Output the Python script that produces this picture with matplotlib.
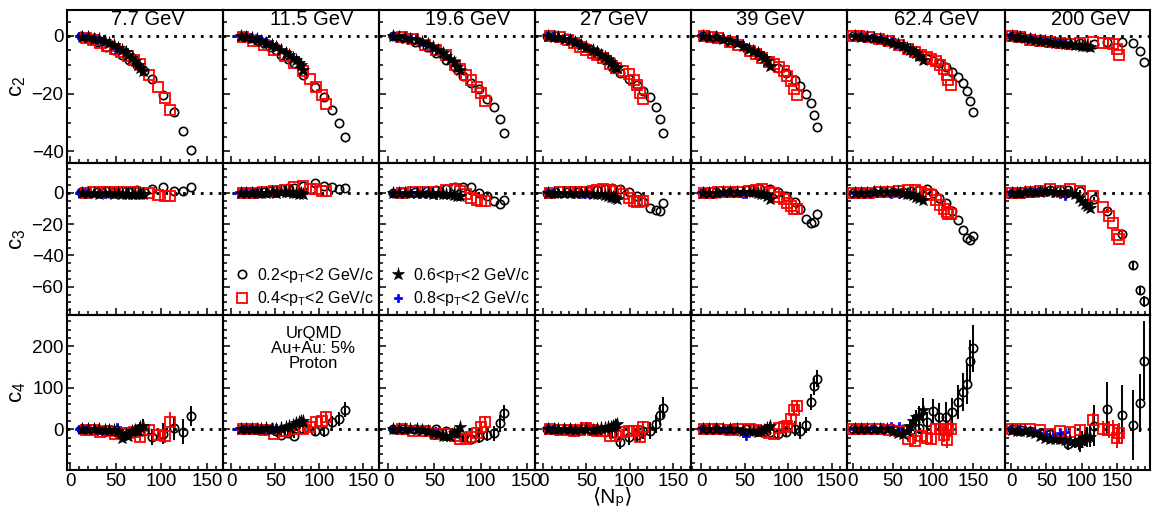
import matplotlib
matplotlib.use('Agg')
import matplotlib.pyplot as plt
from matplotlib.ticker import MultipleLocator

plt.rcParams['font.family'] = ['Liberation Sans', 'DejaVu Sans']
plt.rcParams['mathtext.fontset'] = 'custom'
plt.rcParams['mathtext.rm'] = 'Liberation Sans'
plt.rcParams['mathtext.it'] = 'Liberation Sans:italic'
plt.rcParams['mathtext.bf'] = 'Liberation Sans:bold'

energies = ['7.7 GeV', '11.5 GeV', '19.6 GeV', '27 GeV', '39 GeV', '62.4 GeV', '200 GeV']
cumulants = ['c$_{\\rm 2}$', 'c$_{\\rm 3}$', 'c$_{\\rm 4}$']
pt_labels = ['0.2<p$_{\\rm T}$<2 GeV/c', '0.4<p$_{\\rm T}$<2 GeV/c',
             '0.6<p$_{\\rm T}$<2 GeV/c', '0.8<p$_{\\rm T}$<2 GeV/c']

# ---- 7.7 GeV ----
x_o_77 = [12, 19, 29, 39, 48, 57, 65, 73, 81, 90, 102, 114, 124, 133]
c2_o_77 = [-0.1, -0.8, -2.0, -3.7, -4.8, -6.6, -8.4, -10.0, -12.3, -14.9, -20.6, -26.4, -32.8, -39.5]
c3_o_77 = [0.2, 0.3, 0.5, 1.0, 0.5, 1.0, 0.8, 1.6, 0.5, 2.4, 3.5, 1.0, 1.3, 3.6]
c4_o_77 = [0, 0, -1, -1.6, -3, -14, -8, 0, -5, -19, -11, 2, -6, 32]
e4_o_77 = [2, 2, 3, 3, 5, 8, 8, 10, 12, 20, 25, 28, 30, 25]

x_sq_77 = [17, 25, 33, 41, 49, 56, 63, 70, 77, 87, 96, 104, 110]
c2_sq_77 = [-0.8, -1.5, -2.3, -3.4, -4.6, -5.7, -6.8, -8.2, -9.7, -13.6, -17.6, -21.6, -25.5]
c3_sq_77 = [0, 0.3, 0.6, 0.4, 0.6, 0.3, 0.6, 0.2, 0, 0, -1.5, -2.1, -1.9]
c4_sq_77 = [-1, -2, -6.5, -4, -12, -8, -10, -6, -18, -1.6, -13, -16, 18.6]
e4_sq_77 = [2, 3, 4, 5, 6, 7, 8, 9, 10, 12, 15, 18, 22]

x_st_77 = [13, 20, 26, 32, 38, 43, 48, 53, 57, 61, 64, 68, 71, 74, 77, 80]
c2_st_77 = [-0.2, -0.5, -0.9, -1.2, -1.6, -2.3, -3.1, -4.0, -4.8, -5.7, -6.6, -7.6, -8.6, -10.0, -11.1, -12.1]
c3_st_77 = [0, -0.3, 0, -0.5, 0, -0.3, -0.5, -0.3, -0.8, -0.5, -0.8, -0.5, -1, -0.8, -1, -0.6]
c4_st_77 = [0, 0, 0, 0, -1.6, -1, -1.6, -5, -21, -12, -16, -5, -1.6, -5, 5, 9]
e4_st_77 = [2, 2, 2, 3, 3, 4, 4, 5, 7, 8, 9, 10, 10, 12, 13, 15]

x_bl_77 = [10, 16, 22, 26, 33, 38, 45, 51]
c2_bl_77 = [-0.1, -0.3, -0.4, -0.5, -1.3, -2.0, -3.2, -4.8]
c3_bl_77 = [0, -0.2, 0, -0.2, -0.5, -1, -0.5, -1]
c4_bl_77 = [0, 1, 2, 3, -1, -5, 0, 5]
e4_bl_77 = [2, 2, 3, 3, 4, 4, 5, 6]

# ---- 11.5 GeV ----
x_o_115 = [14, 21, 29, 37, 44, 51, 57, 64, 71, 82, 95, 105, 114, 122, 129]
c2_o_115 = [-0.2, -0.7, -1.4, -2.5, -3.7, -5.0, -6.6, -7.9, -9.4, -13.4, -17.5, -21.1, -25.5, -30.1, -35.1]
c3_o_115 = [0.2, 0.4, 0.5, 0.8, 1.0, 1.5, 2.6, 2.8, 3.2, 4.3, 6.0, 4.3, 3.8, 2.1, 3.2]
c4_o_115 = [0, 0, 0, -2, 0, -5, -13, -10, -15, 0, -5, -5, 17, 25, 47]
e4_o_115 = [2, 2, 3, 3, 4, 5, 6, 6, 7, 9, 12, 14, 15, 16, 18]

x_sq_115 = [13, 25, 37, 48, 61, 71, 81, 89, 96, 103, 108]
c2_sq_115 = [-0.5, -1.6, -3.1, -4.8, -6.9, -9.4, -12.0, -14.8, -17.5, -20.6, -23.6]
c3_sq_115 = [0, 0, 0.3, 1.0, 1.5, 3.8, 4.3, 2.6, 2.1, 1.0, 1.0]
c4_sq_115 = [0, 0.8, -1.6, -11.3, -4.8, 0, 0.8, 4.8, 18.6, 19.4, 29]
e4_sq_115 = [2, 3, 4, 5, 6, 7, 8, 9, 10, 11, 12]

x_st_115 = [11, 17, 23, 29, 34, 40, 46, 51, 57, 62, 66, 70, 74, 77, 79, 81]
c2_st_115 = [0, -0.3, -0.6, -1.0, -1.6, -2.3, -3.1, -3.9, -4.8, -5.8, -6.6, -7.5, -8.3, -9.2, -10.0, -11.7]
c3_st_115 = [0, 0, -0.3, 0, -0.3, 0, 0.3, 0, 0.5, 0.3, 0.5, 0, -0.3, -0.6, 0, -0.5]
c4_st_115 = [0, 0, 0, 1, 0, 2, 0, 1, 2, 4.8, 8.9, 10, 14.5, 18, 21, 20]
e4_st_115 = [2, 2, 2, 3, 3, 3, 4, 4, 5, 5, 6, 6, 7, 7, 8, 8]

x_bl_115 = [8, 14, 21, 28, 34, 40, 46, 51]
c2_bl_115 = [0, -0.1, -0.2, -0.6, -1.1, -1.9, -2.8, -3.6]
c3_bl_115 = [0, 0, -0.2, 0, -0.3, -0.2, 0, -0.3]
c4_bl_115 = [0, 0, 0.8, 0, 1, 2, 4.8, 3]
e4_bl_115 = [2, 2, 2, 3, 3, 3, 4, 4]

# ---- 19.6 GeV ----
x_o_196 = [5, 16, 29, 42, 52, 63, 72, 81, 90, 98, 107, 115, 121, 125]
c2_o_196 = [0, -0.6, -2.0, -3.7, -6.0, -8.3, -10.6, -13.8, -16.3, -18.4, -21.7, -24.7, -28.6, -33.6]
c3_o_196 = [0, 0.3, 0.5, 1.0, 1.5, 2.5, 3.8, 3.8, 3.8, 0, -2.1, -5.3, -7.0, -4.7]
c4_o_196 = [0, 0, 0, -2, 0.8, -5, -10, -18, -23.4, -18, -12.9, -9.7, 14.5, 39.5]
e4_o_196 = [2, 2, 3, 4, 5, 6, 8, 10, 12, 14, 16, 18, 20, 20]

x_sq_196 = [15, 27, 40, 52, 63, 72, 78, 84, 90, 96, 101, 105]
c2_sq_196 = [-0.2, -1.1, -3.1, -4.8, -6.6, -10.0, -11.5, -13.6, -15.2, -17.5, -19.8, -22.4]
c3_sq_196 = [0, 0.3, 0.5, 0.8, 1.5, 2.1, 1.0, -1.1, -3.2, -4.7, -5.3, -5.3]
c4_sq_196 = [0, -3.2, -3.2, -11, -11.3, -15.3, -23.4, -23.4, -17.8, -9.7, 4.8, 18.6]
e4_sq_196 = [2, 3, 4, 5, 6, 7, 8, 9, 10, 11, 12, 14]

x_st_196 = [5, 12, 18, 24, 31, 37, 43, 49, 54, 59, 63, 67, 71, 75, 78]
c2_st_196 = [0, -0.3, -0.6, -1.0, -1.4, -2.0, -2.8, -3.8, -4.8, -5.8, -6.9, -7.9, -8.9, -10.6, -11.7]
c3_st_196 = [0, 0, 0, -0.3, 0, 0, -0.3, -0.5, -0.3, -0.5, -1, -1, -1.5, -2, -2]
c4_st_196 = [0.8, 0.8, 0, 0, 0, -2, -4.8, -8, -11.3, -15, -15.3, -15.3, -10, -7.3, 4.8]
e4_st_196 = [2, 2, 2, 3, 3, 3, 4, 4, 5, 5, 6, 6, 7, 7, 8]

x_bl_196 = [5, 11, 18, 25, 33, 41, 47, 52]
c2_bl_196 = [0, -0.1, -0.2, -0.8, -1.6, -3.1, -3.9, -4.8]
c3_bl_196 = [0, 0, -0.2, -0.3, -0.5, -0.5, -1, -1.5]
c4_bl_196 = [0.8, 0.8, 0.8, 0, -3.2, -7, -13, -10]
e4_bl_196 = [2, 2, 2, 3, 3, 4, 4, 5]

# ---- 27 GeV ----
x_o_27 = [4, 14, 27, 40, 52, 62, 71, 80, 89, 99, 108, 116, 123, 130, 135, 139]
c2_o_27 = [0, 0, -0.8, -2.3, -4.3, -6.2, -8.3, -10.6, -12.7, -14.8, -17.0, -18.9, -21.3, -24.6, -28.7, -33.6]
c3_o_27 = [0, 0.2, 0.4, 0.6, 1.0, 1.5, 2.5, 3.2, 2.6, 0.4, -2.1, -6, -10, -11, -11.7, -6.4]
c4_o_27 = [0, 0, 0, -2, 0, -3, -7.3, -10, -31.5, -19.4, -13, -4.8, -3.2, 12.9, 34.7, 51.7]
e4_o_27 = [2, 2, 3, 3, 4, 5, 6, 8, 15, 18, 18, 18, 20, 22, 24, 25]

x_sq_27 = [8, 19, 29, 35, 42, 50, 58, 62, 69, 77, 84, 92, 99, 105, 108, 112, 115]
c2_sq_27 = [0, -0.3, -1.4, -2.4, -3.7, -4.8, -6.0, -6.6, -7.7, -9.8, -11.0, -12.0, -13.3, -15.2, -17.1, -19.8, -21.8]
c3_sq_27 = [0, 0.2, 0.4, 0.5, 0.6, 0.8, 1.0, 1.5, 2.1, 1.5, 1.0, -1.1, -3.2, -5.3, -6.0, -5.3, -5.3]
c4_sq_27 = [0, -0.8, -2, -3.2, -1, 3.2, -1, -3.2, -5, -17, -15.3, -7.3, -4.8, -5, -3.2, -17.8, 4.8]
e4_sq_27 = [2, 2, 3, 3, 4, 4, 5, 5, 6, 7, 8, 9, 10, 11, 12, 13, 14]

x_st_27 = [6, 12, 17, 24, 31, 37, 44, 50, 57, 62, 67, 72, 75, 78, 81, 83, 85]
c2_st_27 = [0, -0.2, -0.5, -0.9, -1.4, -2.2, -3.1, -3.9, -4.8, -5.7, -6.6, -7.4, -8.0, -8.9, -10.0, -10.6, -11.2]
c3_st_27 = [0, 0, 0, 0, -0.3, 0, -0.3, 0, -0.5, -0.5, -1, -1.5, -2, -2.5, -3, -3.5, -3.8]
c4_st_27 = [0, 0, 0, 0, 0, -1, 0, 0, -0.8, 0, 2.4, 3, 4.8, 6, 8.9, 10, 12.9]
e4_st_27 = [2, 2, 2, 3, 3, 3, 4, 4, 5, 5, 6, 7, 7, 8, 9, 10, 11]

x_bl_27 = [4, 10, 17, 24, 30, 36, 42, 48, 53]
c2_bl_27 = [0, 0, -0.2, -0.6, -1.1, -1.8, -3.1, -3.9, -4.6]
c3_bl_27 = [0, 0, -0.2, 0, -0.3, -0.5, -0.5, -0.8, -1]
c4_bl_27 = [0, 0, -0.8, -2, -3, -7.3, -3, 2, 8.9]
e4_bl_27 = [2, 2, 2, 3, 3, 3, 4, 4, 5]

# ---- 39 GeV ----
x_o_39 = [2, 17, 33, 52, 67, 79, 88, 98, 108, 114, 120, 126, 130, 133]
c2_o_39 = [0, -0.6, -2.0, -4.3, -6.6, -8.8, -11.1, -12.9, -15.4, -17.2, -20.0, -23.2, -27.2, -31.5]
c3_o_39 = [0, 0.3, 0.8, 1.5, 3.2, 2.1, 0.4, -2.1, -6, -10.6, -16.6, -19.1, -18.7, -13.8]
c4_o_39 = [0, 0, 0, 0, -3, -6, -11.3, -5.6, 0.8, -3.2, 10.5, 65.4, 103.3, 121.9]
e4_o_39 = [2, 2, 3, 4, 6, 8, 10, 14, 18, 20, 20, 20, 20, 20]

x_sq_39 = [3, 13, 20, 33, 42, 56, 63, 70, 78, 84, 90, 95, 99, 103, 107, 110]
c2_sq_39 = [0, -0.3, -0.7, -2.0, -3.2, -5.3, -6.2, -7.6, -8.9, -9.8, -10.8, -12.0, -13.8, -15.7, -18.4, -20.3]
c3_sq_39 = [0, 0, 0.2, 0.4, 0.6, 1.0, 1.6, 2.1, 0.5, 0, -2.6, -4, -6.4, -8.5, -10.2, -10.2]
c4_sq_39 = [0, 0, 0, -0.8, 0, 0.8, -2, -4, -8, -11.3, 3.2, 4.8, 8.9, 25, 46.8, 55.7]
e4_sq_39 = [2, 2, 2, 3, 3, 4, 5, 6, 7, 8, 9, 10, 11, 12, 13, 14]

x_st_39 = [2, 9, 17, 25, 33, 41, 48, 55, 60, 65, 69, 72, 76, 79]
c2_st_39 = [0, -0.2, -0.5, -1.0, -1.6, -2.5, -3.4, -4.4, -5.2, -6.0, -6.9, -7.7, -8.6, -10.3]
c3_st_39 = [0, 0, 0, 0.3, 0.3, 0.5, 0.3, 0.5, 0.3, 0, -0.5, -1, -2, -3.8]
c4_st_39 = [0, 0, 0, 0, 0, 0, -3.2, -3, -5, -7.3, -4.8, -2, 4, 8.9]
e4_st_39 = [2, 2, 2, 3, 3, 3, 4, 4, 5, 6, 6, 7, 7, 8]

x_bl_39 = [0, 9, 17, 25, 33, 41, 48, 52]
c2_bl_39 = [0, -0.1, -0.2, -0.6, -1.4, -2.2, -3.1, -3.7]
c3_bl_39 = [0, 0, 0, 0, -0.3, -0.3, -0.5, -0.5]
c4_bl_39 = [0, 0, 0, -0.8, -0.8, -3, -8, -15.3]
e4_bl_39 = [2, 2, 2, 3, 3, 3, 4, 4]

# ---- 62.4 GeV ----
x_o_624 = [0, 12, 25, 38, 50, 62, 72, 83, 92, 100, 108, 116, 124, 131, 137, 142, 146, 150]
c2_o_624 = [0, -0.2, -0.6, -1.3, -2.2, -3.5, -4.8, -6.9, -8.1, -8.8, -9.5, -10.6, -12.5, -14.2, -16.3, -19.2, -22.6, -26.3]
c3_o_624 = [0, 0, 0.2, 0.4, 0.6, 0.8, 1.2, 1.7, 2.1, 0, -3.2, -6.8, -11.7, -17.4, -23.8, -28.7, -30.2, -27.7]
c4_o_624 = [0, 0, 0, 0, 0, 0, -2, 3.2, 17, 43.6, 29, 30.7, 41.2, 65.4, 89.6, 109.7, 164.6, 194.5]
e4_o_624 = [2, 2, 3, 3, 4, 6, 8, 15, 25, 30, 35, 35, 35, 40, 45, 50, 50, 56]

x_sq_624 = [0, 8, 20, 33, 45, 58, 69, 77, 85, 92, 97, 104, 109, 114, 117, 119, 122]
c2_sq_624 = [0, -0.1, -0.5, -1.1, -1.9, -3.2, -4.5, -5.6, -6.5, -7.3, -8.0, -8.8, -10.2, -11.4, -13.4, -15.4, -17.1]
c3_sq_624 = [0, 0, 0, 0.4, 0.6, 1.1, 1.7, 1.7, 0.6, -0.8, -1.7, -4.3, -7.9, -10.6, -12, -13.4, -13.4]
c4_sq_624 = [0, 0, 0, 0, -2, -4, -23.4, -27.4, -15.3, -21, -23.4, 0.8, 0.8, -12.9, -25.8, 0.8, 0.8]
e4_sq_624 = [2, 2, 3, 3, 4, 5, 8, 9, 10, 12, 13, 15, 16, 18, 20, 20, 20]

x_st_624 = [2, 10, 18, 26, 34, 42, 50, 56, 62, 67, 71, 75, 79, 83, 87]
c2_st_624 = [0, -0.2, -0.4, -0.7, -1.1, -1.6, -2.3, -2.9, -3.5, -4.1, -4.7, -5.3, -6.0, -6.9, -8.3]
c3_st_624 = [0, 0, 0, 0.2, 0.3, 0.4, 0.5, 0.3, 0, -0.5, -1, -1.7, -2.5, -3.2, -4.3]
c4_st_624 = [0, 0, 0, 0, 0, 0, -3, -8, -11.3, -3.2, 8.9, 20, 29, 33.1, 45.2]
e4_st_624 = [2, 2, 2, 3, 3, 4, 5, 6, 8, 10, 12, 15, 18, 22, 30]

x_bl_624 = [1, 8, 16, 25, 35, 47, 58]
c2_bl_624 = [0, -0.1, -0.3, -0.6, -1.1, -1.9, -3.0]
c3_bl_624 = [0, 0, 0, 0, -0.2, -0.5, -1]
c4_bl_624 = [0, 0, 0, 0, 0, 8.9, 8.9]
e4_bl_624 = [2, 2, 2, 3, 3, 4, 5]

# ---- 200 GeV ----
x_o_200 = [1, 14, 27, 41, 55, 69, 81, 98, 117, 136, 157, 172, 183, 188]
c2_o_200 = [0, -0.5, -0.8, -1.2, -1.6, -2.0, -2.3, -2.5, -2.8, -2.0, -2.1, -2.6, -5.1, -9.0]
c3_o_200 = [0, 0.3, 0.6, 1.0, 1.5, 1.8, 2.0, 1.0, -3.8, -11.7, -26.0, -46.2, -62.3, -69.1]
e3_o_200 = [0.2, 0.2, 0.3, 0.3, 0.4, 0.5, 0.6, 0.8, 1.0, 1.5, 2.0, 2.5, 3.0, 3.5]
c4_o_200 = [0, -2, -5, -8, -12, -20, -35.5, -29, 8.9, 49.2, 35.5, 10.5, 63, 164.6]
e4_o_200 = [2, 3, 4, 6, 8, 12, 15, 25, 50, 65, 70, 85, 70, 95]

x_sq_200 = [1, 13, 27, 41, 55, 69, 84, 98, 116, 130, 139, 144, 150, 153]
c2_sq_200 = [0, -0.5, -1.4, -1.8, -2.1, -2.5, -2.9, -2.5, -2.1, -2.5, -2.5, -2.9, -4.5, -6.7]
c3_sq_200 = [0, 0, 0.6, 1.0, 2.1, 1.1, 2.1, 1.1, -2.1, -9.1, -15, -19.1, -27.2, -29.8]
c4_sq_200 = [0.8, 0.8, 0.8, -1.6, -11.3, -4.8, -7.3, -0.8, 23.4, 0.8, -0.8, -0.8, -21.8, -9.7]
e4_sq_200 = [2, 3, 4, 5, 6, 8, 10, 12, 15, 18, 20, 22, 24, 25]

x_st_200 = [2, 8, 13, 20, 27, 34, 41, 48, 55, 62, 69, 76, 84, 90, 96, 101, 105, 108, 112]
c2_st_200 = [0, -0.3, -0.5, -0.8, -1.1, -1.4, -1.6, -1.9, -2.1, -2.3, -2.5, -2.7, -2.8, -3.0, -3.2, -3.3, -3.4, -3.6, -3.8]
c3_st_200 = [0, 0, 0, 0.2, 0.4, 0.6, 0.8, 1.0, 1.0, 0.8, 0.6, 0.3, 0, -1, -3.2, -5, -7.4, -8.5, -9.6]
c4_st_200 = [-1, -3.2, -3, -5, -7.3, -10, -15.3, -20, -23.4, -23.4, -23.4, -25, -27.4, -30, -31.5, -25, -19.4, -18, -17.8]
e4_st_200 = [2, 3, 3, 4, 5, 6, 7, 8, 9, 10, 11, 12, 14, 16, 18, 20, 22, 24, 26]

x_bl_200 = [0, 10, 20, 30, 40, 50, 60, 70, 77]
c2_bl_200 = [0, -0.3, -0.6, -0.9, -1.2, -1.5, -1.7, -1.9, -2.0]
c3_bl_200 = [0, 0, 0.2, 0.3, 0.5, 0.5, 0, -1, -2.1]
c4_bl_200 = [0, 0, -1, -3, -8, -12, -15.3, -10, -7.3]
e4_bl_200 = [2, 2, 3, 3, 4, 5, 6, 7, 8]

# tables used by the drawing loop: [energy][series] -> values
npart = [
    [x_o_77, x_sq_77, x_st_77, x_bl_77],
    [x_o_115, x_sq_115, x_st_115, x_bl_115],
    [x_o_196, x_sq_196, x_st_196, x_bl_196],
    [x_o_27, x_sq_27, x_st_27, x_bl_27],
    [x_o_39, x_sq_39, x_st_39, x_bl_39],
    [x_o_624, x_sq_624, x_st_624, x_bl_624],
    [x_o_200, x_sq_200, x_st_200, x_bl_200],
]
c2_all = [
    [c2_o_77, c2_sq_77, c2_st_77, c2_bl_77],
    [c2_o_115, c2_sq_115, c2_st_115, c2_bl_115],
    [c2_o_196, c2_sq_196, c2_st_196, c2_bl_196],
    [c2_o_27, c2_sq_27, c2_st_27, c2_bl_27],
    [c2_o_39, c2_sq_39, c2_st_39, c2_bl_39],
    [c2_o_624, c2_sq_624, c2_st_624, c2_bl_624],
    [c2_o_200, c2_sq_200, c2_st_200, c2_bl_200],
]
c3_all = [
    [c3_o_77, c3_sq_77, c3_st_77, c3_bl_77],
    [c3_o_115, c3_sq_115, c3_st_115, c3_bl_115],
    [c3_o_196, c3_sq_196, c3_st_196, c3_bl_196],
    [c3_o_27, c3_sq_27, c3_st_27, c3_bl_27],
    [c3_o_39, c3_sq_39, c3_st_39, c3_bl_39],
    [c3_o_624, c3_sq_624, c3_st_624, c3_bl_624],
    [c3_o_200, c3_sq_200, c3_st_200, c3_bl_200],
]
c4_all = [
    [c4_o_77, c4_sq_77, c4_st_77, c4_bl_77],
    [c4_o_115, c4_sq_115, c4_st_115, c4_bl_115],
    [c4_o_196, c4_sq_196, c4_st_196, c4_bl_196],
    [c4_o_27, c4_sq_27, c4_st_27, c4_bl_27],
    [c4_o_39, c4_sq_39, c4_st_39, c4_bl_39],
    [c4_o_624, c4_sq_624, c4_st_624, c4_bl_624],
    [c4_o_200, c4_sq_200, c4_st_200, c4_bl_200],
]
e4_all = [
    [e4_o_77, e4_sq_77, e4_st_77, e4_bl_77],
    [e4_o_115, e4_sq_115, e4_st_115, e4_bl_115],
    [e4_o_196, e4_sq_196, e4_st_196, e4_bl_196],
    [e4_o_27, e4_sq_27, e4_st_27, e4_bl_27],
    [e4_o_39, e4_sq_39, e4_st_39, e4_bl_39],
    [e4_o_624, e4_sq_624, e4_st_624, e4_bl_624],
    [e4_o_200, e4_sq_200, e4_st_200, e4_bl_200],
]
e3_all = {(6, 0): e3_o_200}

# marker styles per pT range
styles = [
    dict(marker='o', mfc='none', mec='black', ms=6, mew=1.2),
    dict(marker='s', mfc='none', mec='red', ms=6.5, mew=1.3),
    dict(marker='*', mfc='black', mec='black', ms=9.5, mew=0.5),
    dict(marker='P', mfc='blue', mec='blue', ms=5.5, mew=0.5),
]
err_colors = ['black', 'red', 'black', 'blue']
draw_order = [0, 3, 1, 2]

# panel geometry in pixels
W, H = 1154, 508
col_edges = [67, 223, 379, 535, 691, 847, 1005, 1150]
row_edges = [10, 163, 315, 470]
xlims = [(-3.3, 167.5), (-9.4, 167.8), (-10, 159), (-9.6, 171),
         (-11.5, 167.6), (-7.5, 190), (-8.5, 196.6)]
ylims = [(-44, 9), (-78, 19), (-98, 275)]
y_major = [20, 20, 100]
y_minor = [5, 5, 20]
title_x = [0.52, 0.57, 0.565, 0.51, 0.505, 0.57, 0.59]

fig = plt.figure(figsize=(W / 100, H / 100), dpi=100)

axes = []
for r in range(3):
    row = []
    for c in range(7):
        left = col_edges[c] / W
        width = (col_edges[c + 1] - col_edges[c]) / W
        bottom = 1 - row_edges[r + 1] / H
        height = (row_edges[r + 1] - row_edges[r]) / H
        ax = fig.add_axes([left, bottom, width, height])
        ax.patch.set_alpha(0)
        ax.set_xlim(*xlims[c])
        ax.set_ylim(*ylims[r])
        ax.xaxis.set_major_locator(MultipleLocator(50))
        ax.xaxis.set_minor_locator(MultipleLocator(10))
        ax.yaxis.set_major_locator(MultipleLocator(y_major[r]))
        ax.yaxis.set_minor_locator(MultipleLocator(y_minor[r]))
        ax.tick_params(which='both', direction='in', top=False, right=False,
                       labelsize=13.5, width=1.1, pad=2.5)
        ax.tick_params(which='major', length=5)
        ax.tick_params(which='minor', length=3)
        if c > 0:
            ax.tick_params(labelleft=False)
        if r < 2:
            ax.tick_params(labelbottom=False)
        for sp in ax.spines.values():
            sp.set_linewidth(1.5)
        ax.axhline(0, color='black', lw=2, linestyle=(0, (1, 2.2)), zorder=1)
        row.append(ax)
    axes.append(row)

orders = [c2_all, c3_all, c4_all]
for r in range(3):
    for c in range(7):
        ax = axes[r][c]
        for s in draw_order:
            xs = npart[c][s]
            ys = orders[r][c][s]
            if r == 2:
                ax.errorbar(xs, ys, yerr=e4_all[c][s], fmt='none',
                            ecolor=err_colors[s], elinewidth=1.4, capsize=0, zorder=2)
            elif r == 1 and (c, s) in e3_all:
                ax.errorbar(xs, ys, yerr=e3_all[(c, s)], fmt='none',
                            ecolor=err_colors[s], elinewidth=1.4, capsize=0, zorder=2)
            ax.plot(xs, ys, linestyle='none', zorder=3, **styles[s])

for c in range(7):
    axes[0][c].text(title_x[c], 0.935, energies[c], transform=axes[0][c].transAxes,
                    ha='center', va='center', fontsize=14.5)

for r in range(3):
    fig.text(17 / W, 1 - (row_edges[r] + row_edges[r + 1]) / 2 / H, cumulants[r],
             rotation=90, ha='center', va='center', fontsize=16)

# axis title: brackets come from DejaVu Sans, the rest from Liberation Sans
fig.text(612 / W, 1 / H, '\u27e8N\u209a\u27e9', ha='center', va='bottom', fontsize=15)

# legend split over the 11.5 and 19.6 GeV c3 panels
handles = [plt.Line2D([], [], linestyle='none', **st) for st in styles]
for k, ax in enumerate([axes[1][1], axes[1][2]]):
    ax.legend(handles[2 * k:2 * k + 2], pt_labels[2 * k:2 * k + 2], loc='lower left',
              bbox_to_anchor=(-0.02, -0.02), frameon=False, fontsize=11.5,
              handletextpad=0.1, handlelength=1.6, labelspacing=0.3,
              borderaxespad=0.2)

axes[2][1].text(0.58, 0.93, 'UrQMD\nAu+Au: 5%\nProton', transform=axes[2][1].transAxes,
                ha='center', va='top', fontsize=12, linespacing=1.0)

fig.savefig('out.png', dpi=100)
